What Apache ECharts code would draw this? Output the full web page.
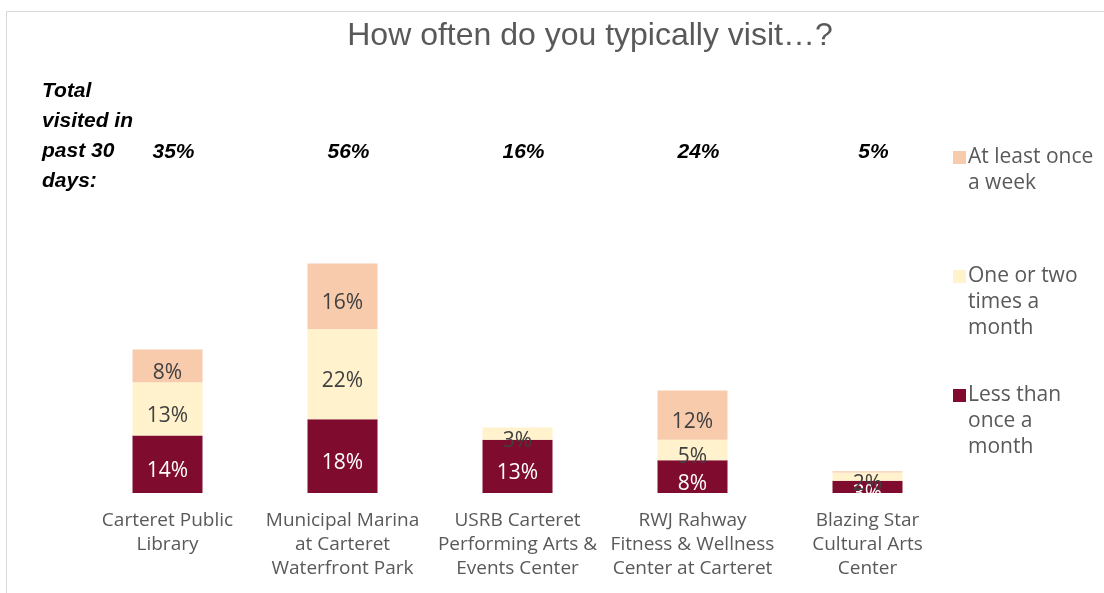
<!DOCTYPE html>
<html><head><meta charset="utf-8">
<script src="https://cdn.jsdelivr.net/npm/echarts@6/dist/echarts.min.js"></script>
<style>html,body{margin:0;padding:0;background:#fff}#c{width:1104px;height:593px}</style>
</head><body><div id="c"></div>
<script>
const categories = ["Carteret Public\nLibrary", "Municipal Marina\nat Carteret\nWaterfront Park", "USRB Carteret\nPerforming Arts &\nEvents Center", "RWJ Rahway\nFitness & Wellness\nCenter at Carteret", "Blazing Star\nCultural Arts\nCenter"];
const lessThanMonthly = [14, 18, 13, 8, 3];
const oneOrTwoMonthly = [13, 22, 3, 5, 2];
const weekly = [8, 16, 0, 12, 0.3];
const totals = ["35%", "56%", "16%", "24%", "5%"];
const seriesNames = ["Less than\nonce a\nmonth", "One or two\ntimes a\nmonth", "At least once\na week"];
const colors = ["#7F0C2E", "#FFF2CC", "#F8CBAD"];
const labelColors = ["#FFFFFF", "#404040", "#404040"];
const seriesData = [lessThanMonthly, oneOrTwoMonthly, weekly];

const font = "'Open Sans', 'Noto Sans', sans-serif";
const narrow = "'Liberation Sans Narrow', 'Liberation Sans', sans-serif";
const chart = echarts.init(document.getElementById('c'));

const series = seriesData.map((d, i) => ({
  name: seriesNames[i], type: 'bar', stack: 'total', barWidth: 70,
  itemStyle: { color: colors[i] },
  label: {
    show: true, position: 'inside', offset: [0, 7], color: labelColors[i], fontFamily: font, fontSize: 21,
    formatter: p => (p.value >= 1 ? p.value + '%' : '')
  },
  data: d
}));

// legend built from series names/colors (top item first)
const legendY = [148, 267, 386];
const legendGraphics = [];
[2, 1, 0].forEach((si, k) => {
  legendGraphics.push({ type: 'rect', left: 953, top: legendY[k] + 3, shape: { width: 13, height: 13 }, style: { fill: colors[si] } });
  legendGraphics.push({ type: 'text', left: 968, top: legendY[k] - 4, style: { text: seriesNames[si], font: "21px " + font, fill: '#595959', lineHeight: 26 } });
});

chart.setOption({
  animation: false,
  title: { text: 'How often do you typically visit…?', left: 585, top: 15, textAlign: 'center',
    textStyle: { fontFamily: narrow, fontSize: 32, fontWeight: 'normal', color: '#595959' } },
  grid: { left: 80, right: 149, top: 247, bottom: 100 },
  xAxis: [
    { type: 'category', data: categories, axisLine: { show: false }, axisTick: { show: false },
      axisLabel: { color: '#595959', fontFamily: font, fontSize: 19, lineHeight: 24, margin: 16, interval: 0 } },
    { type: 'category', position: 'top', data: totals, offset: 76, axisLine: { show: false }, axisTick: { show: false },
      axisLabel: { color: '#000', fontFamily: narrow, fontStyle: 'italic', fontWeight: 'bold', fontSize: 21, padding: [0, 0, 0, 12], interval: 0 } }
  ],
  yAxis: { type: 'value', min: 0, max: 60, show: false, splitLine: { show: false } },
  series: series,
  graphic: [
    { type: 'rect', left: 4, top: 9, shape: { width: 1200, height: 700 }, style: { fill: 'none', stroke: '#D9D9D9', lineWidth: 1 } },
    { type: 'text', left: 42, top: 76, style: { text: 'Total\nvisited in\npast 30\ndays:', font: "italic bold 21px " + narrow, fill: '#000', lineHeight: 30 } }
  ].concat(legendGraphics)
});
</script></body></html>
